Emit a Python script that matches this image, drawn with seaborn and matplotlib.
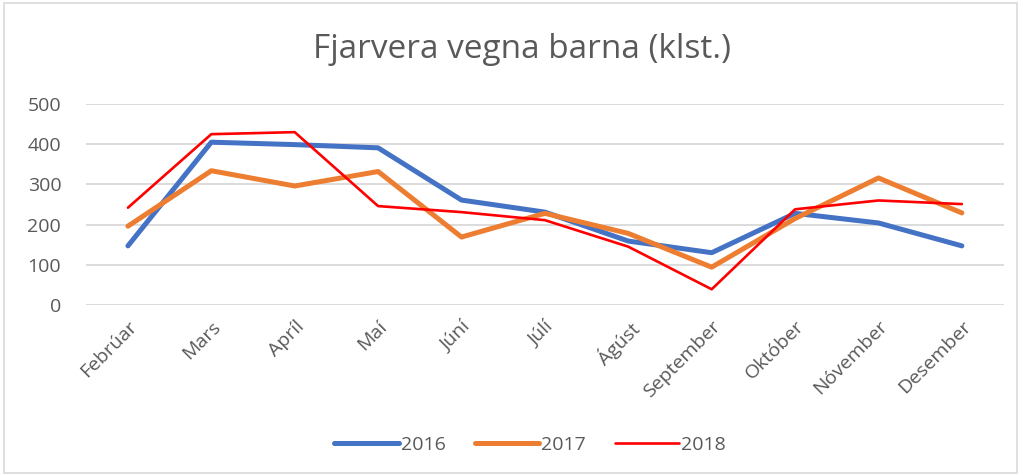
import pandas as pd
import matplotlib.pyplot as plt
import seaborn as sns
from matplotlib.patches import Rectangle

# Gögn lesin af myndinni
manudir = ['Febrúar', 'Mars', 'Apríl', 'Maí', 'Júní', 'Júlí', 'Ágúst',
           'September', 'Október', 'Nóvember', 'Desember']
ar_2016 = [147, 405, 399, 391, 261, 231, 159, 130, 228, 204, 147]
ar_2017 = [196, 334, 296, 332, 169, 228, 178, 94, 215, 316, 229]
ar_2018 = [242, 425, 430, 246, 231, 211, 145, 39, 238, 260, 251]

df = pd.DataFrame({'Mánuður': manudir * 3,
                   'Ár': ['2016'] * 11 + ['2017'] * 11 + ['2018'] * 11,
                   'Klst': ar_2016 + ar_2017 + ar_2018})
df['x'] = list(range(11)) * 3

litir = {'2016': '#4472C4', '2017': '#ED7D31', '2018': '#FF0000'}
breidd = {'2016': 3.6, '2017': 3.6, '2018': 1.9}

sns.set_style('white')
plt.rcParams['font.family'] = ['Open Sans', 'DejaVu Sans']

fig = plt.figure(figsize=(10.23, 4.75), dpi=100)
ax = fig.add_axes([0.0843, 0.358, 0.8967, 0.423])

for ar in ['2016', '2017', '2018']:
    sns.lineplot(data=df[df['Ár'] == ar], x='x', y='Klst', ax=ax,
                 color=litir[ar], lw=breidd[ar], label=ar,
                 solid_capstyle='round', solid_joinstyle='round')

ax.set_xlim(-0.5, 10.5)
ax.set_ylim(0, 500)
ax.set_yticks([0, 100, 200, 300, 400, 500])
ax.yaxis.grid(True, color='#D9D9D9', lw=1.3)
ax.set_axisbelow(True)
for s in ax.spines.values():
    s.set_visible(False)
ax.set_xticks(range(11))
ax.set_xticklabels(manudir, rotation=45, ha='right', rotation_mode='anchor',
                   fontsize=14, color='#595959')
ax.tick_params(axis='x', length=0, pad=9)
ax.tick_params(axis='y', length=0, pad=18, labelsize=14, labelcolor='#595959')
ax.set_xlabel('')
ax.set_ylabel('')

fig.text(0.51, 1 - 50 / 475, 'Fjarvera vegna barna (klst.)', ha='center', va='center',
         fontsize=24, color='#595959')

ax.legend(loc='center', bbox_to_anchor=(0.518, 1 - 445 / 475), bbox_transform=fig.transFigure,
          ncol=3, frameon=False, fontsize=14, handlelength=3.3, columnspacing=1.5,
          handletextpad=0.1, labelcolor='#595959')

fig.patches.append(Rectangle((0.004, 0.004), 0.99, 0.99, transform=fig.transFigure,
                             fill=False, edgecolor='#D9D9D9', lw=1.2))

fig.savefig('out.png', dpi=100)
